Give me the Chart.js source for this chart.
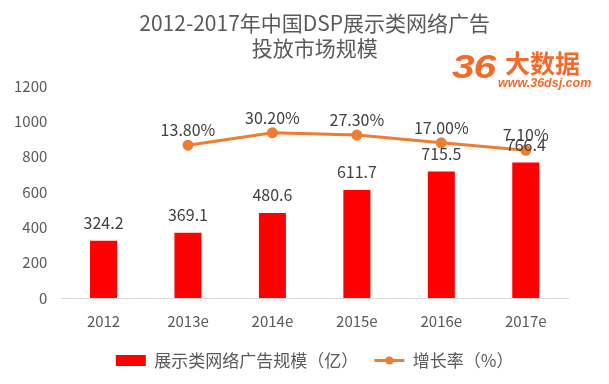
<!DOCTYPE html>
<html lang="zh">
<head>
<meta charset="UTF-8">
<title>2012-2017年中国DSP展示类网络广告投放市场规模</title>
<script src="https://cdn.jsdelivr.net/npm/chart.js"></script>
<style>
    html, body { margin: 0; padding: 0; background: #fff; }
    .wrap { position: relative; width: 609px; height: 384px; }
    .logo { color: #f26b2a; }
    .logo span { position: absolute; white-space: nowrap; }
    .logo .num { left: 452px; top: 49px; font: italic bold 34px/34px "Liberation Sans", sans-serif; transform: scaleX(1.2); transform-origin: left top; letter-spacing: -1px; }
    .logo .cn { left: 505px; top: 50px; font: bold 25px/25px "Noto Sans CJK SC", sans-serif; }
    .logo .url { left: 498px; top: 77px; font: italic bold 12.5px/12.5px "Liberation Sans", sans-serif; }
</style>
</head>
<body>
<div class="wrap">
    <canvas id="c" width="609" height="384"></canvas>
    <div class="logo"><span class="num">36</span><span class="cn">大数据</span><span class="url">www.36dsj.com</span></div>
</div>
<script>
const years = ['2012', '2013e', '2014e', '2015e', '2016e', '2017e'];
const scale = [324.2, 369.1, 480.6, 611.7, 715.5, 766.4];       // 展示类网络广告规模（亿）
const growth = [null, 13.8, 30.2, 27.3, 17.0, 7.1];              // 增长率（%）
const growthLabels = ['', '13.80%', '30.20%', '27.30%', '17.00%', '7.10%'];

const FONT = '"Noto Sans CJK SC", "Open Sans", sans-serif';
const GREY = '#595959';

// value labels above bars and points
const valueLabels = {
    id: 'valueLabels',
    afterDatasetsDraw(chart) {
        const ctx = chart.ctx;
        ctx.save();
        ctx.font = '16px ' + FONT;
        ctx.fillStyle = '#404040';
        ctx.textAlign = 'center';
        ctx.textBaseline = 'middle';
        chart.getDatasetMeta(0).data.forEach((bar, i) => {
            ctx.fillText(scale[i].toFixed(1), bar.x, bar.y - 18);
        });
        chart.getDatasetMeta(1).data.forEach((pt, i) => {
            if (growth[i] == null) return;
            ctx.fillText(growthLabels[i], pt.x, pt.y - 15);
        });
        ctx.restore();
    }
};

// dot in the middle of the line legend marker
const legendDot = {
    id: 'legendDot',
    afterDraw(chart) {
        const lg = chart.legend;
        if (!lg || !lg.legendHitBoxes[1]) return;
        const box = lg.legendHitBoxes[1];
        const ctx = chart.ctx;
        ctx.save();
        ctx.fillStyle = '#ed7d31';
        ctx.beginPath();
        ctx.arc(box.left + 15, box.top + box.height / 2, 4, 0, Math.PI * 2);
        ctx.fill();
        ctx.restore();
    }
};

new Chart(document.getElementById('c'), {
    data: {
        labels: years,
        datasets: [
            {
                type: 'bar',
                label: '展示类网络广告规模（亿）',
                data: scale,
                backgroundColor: '#ff0000',
                categoryPercentage: 0.64,
                barPercentage: 0.5,
                yAxisID: 'y',
                order: 2
            },
            {
                type: 'line',
                label: '增长率（%）',
                data: growth,
                borderColor: '#ed7d31',
                backgroundColor: '#ed7d31',
                borderWidth: 3,
                pointRadius: 4,
                pointHoverRadius: 4,
                tension: 0,
                yAxisID: 'y1',
                order: 1
            }
        ]
    },
    options: {
        responsive: false,
        animation: false,
        layout: { padding: { left: 8, right: 41, top: 4, bottom: 5 } },
        plugins: {
            title: {
                display: true,
                fullSize: false,
                text: ['2012-2017年中国DSP展示类网络广告', '投放市场规模'],
                color: GREY,
                font: { family: FONT, size: 21, weight: 'normal', lineHeight: 1.19 },
                padding: { top: 7, bottom: 25 }
            },
            legend: {
                position: 'bottom',
                fullSize: false,
                labels: {
                    color: GREY,
                    font: { family: FONT, size: 17 },
                    usePointStyle: true,
                    pointStyleWidth: 30,
                    boxHeight: 11,
                    padding: 16,
                    generateLabels(chart) {
                        return chart.data.datasets.map((ds, i) => ({
                            text: ds.label,
                            fillStyle: ds.backgroundColor,
                            strokeStyle: ds.borderColor || ds.backgroundColor,
                            lineWidth: i === 1 ? 3 : 0,
                            pointStyle: i === 1 ? 'line' : 'rect',
                            datasetIndex: i,
                            fontColor: GREY
                        }));
                    }
                }
            },
            tooltip: { enabled: false }
        },
        scales: {
            x: {
                grid: { display: false },
                border: { color: '#d9d9d9' },
                ticks: { color: GREY, font: { family: FONT, size: 15 }, padding: 6 }
            },
            y: {
                min: 0,
                max: 1200,
                ticks: {
                    stepSize: 200,
                    color: GREY,
                    font: { family: FONT, size: 15 },
                    padding: 6,
                    callback: v => String(v)
                },
                grid: { display: false },
                border: { display: false }
            },
            y1: {
                display: false,
                min: -188.7,
                max: 92.3
            }
        }
    },
    plugins: [valueLabels, legendDot]
});
</script>
</body>
</html>
